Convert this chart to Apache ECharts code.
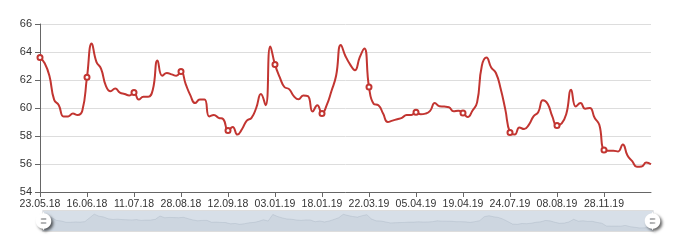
<!DOCTYPE html>
<html>
<head>
<meta charset="utf-8">
<script src="https://cdn.jsdelivr.net/npm/echarts@6/dist/echarts.min.js"></script>
<style>
html,body{margin:0;padding:0;background:#fff;}
#chart{width:680px;height:248px;}
</style>
</head>
<body>
<div id="chart"></div>
<script>
var dates = [
 '23.05.18','25.05.18','28.05.18','30.05.18','01.06.18','04.06.18','06.06.18','08.06.18','11.06.18','13.06.18',
 '16.06.18','18.06.18','21.06.18','23.06.18','26.06.18','28.06.18','01.07.18','03.07.18','06.07.18','08.07.18',
 '11.07.18','16.07.18','20.07.18','25.07.18','30.07.18','03.08.18','08.08.18','13.08.18','17.08.18','22.08.18',
 '28.08.18','29.08.18','31.08.18','01.09.18','03.09.18','04.09.18','06.09.18','07.09.18','09.09.18','10.09.18',
 '12.09.18','23.09.18','04.10.18','15.10.18','27.10.18','07.11.18','18.11.18','30.11.18','11.12.18','22.12.18',
 '03.01.19','04.01.19','06.01.19','07.01.19','09.01.19','10.01.19','12.01.19','13.01.19','15.01.19','16.01.19',
 '18.01.19','24.01.19','30.01.19','06.02.19','12.02.19','18.02.19','24.02.19','02.03.19','09.03.19','15.03.19',
 '22.03.19','23.03.19','25.03.19','26.03.19','27.03.19','29.03.19','30.03.19','31.03.19','02.04.19','03.04.19',
 '05.04.19','06.04.19','08.04.19','09.04.19','10.04.19','12.04.19','13.04.19','14.04.19','16.04.19','17.04.19',
 '19.04.19','29.04.19','08.05.19','18.05.19','27.05.19','06.06.19','16.06.19','25.06.19','05.07.19','14.07.19',
 '24.07.19','25.07.19','27.07.19','28.07.19','30.07.19','31.07.19','02.08.19','03.08.19','05.08.19','06.08.19',
 '08.08.19','19.08.19','30.08.19','10.09.19','21.09.19','02.10.19','13.10.19','24.10.19','04.11.19','17.11.19',
 '28.11.19','30.11.19','02.12.19','04.12.19','06.12.19','09.12.19','11.12.19','13.12.19','16.12.19','18.12.19',
 '20.12.19'
];
var values = [
 63.6,63.2,62.3,60.6,60.2,59.4,59.4,59.6,59.5,59.8,
 62.2,64.6,63.3,62.8,61.6,61.2,61.4,61.1,61.0,60.9,
 61.1,60.6,60.8,60.8,61.3,63.4,62.3,62.5,62.4,62.3,
 62.6,61.7,60.9,60.35,60.6,60.6,59.4,59.5,59.3,59.2,
 58.4,58.65,58.1,58.5,59.1,59.3,60.0,61.0,60.2,64.4,
 63.1,62.2,61.5,61.35,60.85,60.62,60.9,60.85,59.75,60.2,
 59.6,60.2,61.2,62.3,64.5,63.7,63.1,62.7,63.6,64.25,
 61.5,60.3,60.2,59.6,59.0,59.1,59.2,59.3,59.5,59.5,
 59.7,59.55,59.6,59.8,60.35,60.12,60.1,60.05,59.76,59.8,
 59.65,59.35,59.8,60.4,63.0,63.6,62.9,62.5,61.4,59.9,
 58.25,58.1,58.6,58.5,58.8,59.4,59.7,60.55,60.3,59.4,
 58.75,58.9,59.6,61.3,60.1,60.35,59.95,60.0,59.3,58.8,
 57.0,56.95,56.95,56.9,57.4,56.6,56.2,55.8,55.82,56.1,
 55.98
];
var yMin = 54, yMax = 66, yStep = 2;
var handlePath = 'M10.7,11.9v-1.3H9.3v1.3c-4.9,0.3-8.8,4.4-8.8,9.4c0,5,3.9,9.1,8.8,9.4v1.3h1.3v-1.3c4.9-0.3,8.8-4.4,8.8-9.4C19.5,16.3,15.6,12.2,10.7,11.9z M13.3,24.4H6.7V23h6.6V24.4z M13.3,19.6H6.7v-1.4h6.6V19.6z';
var labelFont = '"Liberation Sans", Arial, sans-serif';

var chart = echarts.init(document.getElementById('chart'), null, {renderer:'canvas'});
chart.setOption({
  animation:false,
  grid:{left:40,right:29,top:24,bottom:56},
  xAxis:{
    type:'category',
    boundaryGap:false,
    data:dates,
    axisLine:{show:true,lineStyle:{color:'#666',width:1}},
    axisTick:{show:true,length:5,lineStyle:{color:'#666'}},
    axisLabel:{interval:9,showMaxLabel:false,color:'#333',fontSize:10.5,fontFamily:labelFont,margin:7},
    splitLine:{show:false}
  },
  yAxis:{
    type:'value',
    min:yMin,max:yMax,interval:yStep,
    axisLine:{show:true,lineStyle:{color:'#666',width:1}},
    axisTick:{show:true,length:5,lineStyle:{color:'#666'}},
    axisLabel:{color:'#333',fontSize:11,fontFamily:labelFont,margin:8},
    splitLine:{show:true,lineStyle:{color:'#ddd',width:1}}
  },
  dataZoom:[{
    type:'slider',
    start:0,end:100,
    left:40,right:29,top:210,height:22,
    showDetail:false,
    showDataShadow:true,
    brushSelect:false,
    moveHandleSize:0,
    backgroundColor:'rgba(47,69,84,0)',
    borderColor:'#ddd',
    fillerColor:'rgba(167,183,204,0.45)',
    dataBackground:{
      lineStyle:{color:'#2f4554',width:0.5,opacity:0.3},
      areaStyle:{color:'rgba(47,69,84,0.3)',opacity:0.3}
    },
    selectedDataBackground:{
      lineStyle:{color:'#2f4554',width:0.5,opacity:0.3},
      areaStyle:{color:'rgba(47,69,84,0.3)',opacity:0.3}
    },
    handleIcon:handlePath,
    handleSize:'80%',
    handleStyle:{color:'#fff',borderWidth:0,shadowBlur:3,shadowColor:'rgba(0,0,0,0.6)',shadowOffsetX:2,shadowOffsetY:2}
  }],
  series:[{
    type:'line',
    data:values,
    smooth:true,
    symbol:function(v, p){ return p.dataIndex === values.length - 1 ? 'none' : 'emptyCircle'; },
    symbolSize:5,
    showAllSymbol:'auto',
    itemStyle:{color:'#c23531',borderColor:'#d46a63',borderWidth:1},
    lineStyle:{color:'#c23531',width:2}
  }]
});
</script>
</body>
</html>
